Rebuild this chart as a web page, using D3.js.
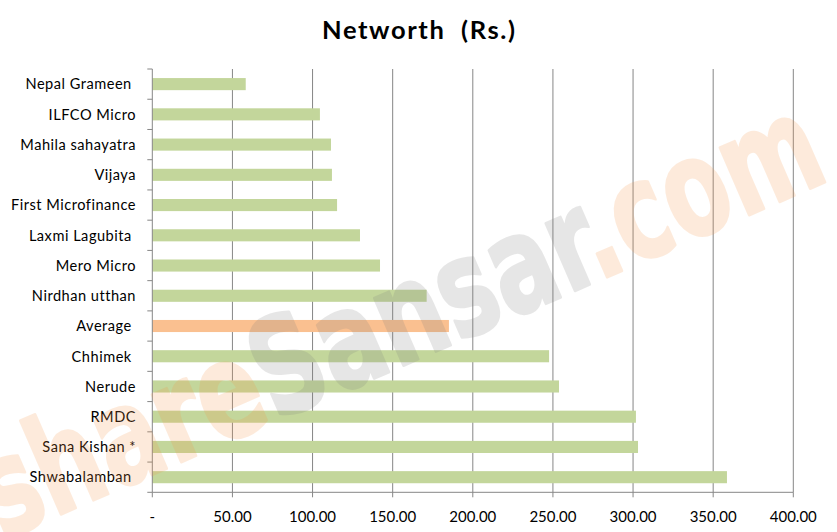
<!DOCTYPE html>
<html>
<head>
<meta charset="utf-8">
<script src="https://cdn.jsdelivr.net/npm/d3@7"></script>
<style>
  html, body { margin: 0; padding: 0; background: #fff; }
  svg text { white-space: pre; }
</style>
</head>
<body>
<svg id="chart" width="837" height="532"></svg>
<script>
const categories = ["Nepal Grameen ", "ILFCO Micro", "Mahila sahayatra", "Vijaya", "First Microfinance", "Laxmi Lagubita ", "Mero Micro", "Nirdhan utthan", "Average ", "Chhimek ", "Nerude", "RMDC", "Sana Kishan *", "Shwabalamban "];
const values = [58.3, 104.6, 111.5, 112.1, 115.3, 129.6, 142.1, 171.2, 185.1, 247.6, 253.8, 301.8, 303.1, 358.6];
const highlight = ["Average "];
const tickValues = [0, 50, 100, 150, 200, 250, 300, 350, 400];
const tickLabels = ["-", "50.00", "100.00", "150.00", "200.00", "250.00", "300.00", "350.00", "400.00"];
const title = "Networth  (Rs.)";
const watermark = [["share", "#f79646"], ["Sansar", "#7f7f7f"], [".com", "#f79646"]];

const svg = d3.select("#chart");
const W = 837, H = 532;
const m = { left: 152.3, right: 837 - 793.3, top: 69, bottom: 532 - 492.3 };
const font = "Lato, 'Open Sans', sans-serif";

const x = d3.scaleLinear().domain([0, 400]).range([m.left, W - m.right]);
const y = d3.scaleBand().domain(categories).range([m.top, H - m.bottom]).paddingInner(0.6).paddingOuter(0.3);
const yEdge = d3.scaleLinear().domain([0, categories.length]).range([m.top, H - m.bottom]);

// Title
svg.append("text").attr("x", 322).attr("y", 39)
  .attr("font-family", font).attr("font-weight", "bold").attr("font-size", 25.5)
  .attr("textLength", 193).attr("lengthAdjust", "spacing")
  .attr("fill", "#000").text(title);

// Gridlines
svg.append("g").selectAll("line").data(tickValues.slice(1)).join("line")
  .attr("x1", d => x(d)).attr("x2", d => x(d))
  .attr("y1", m.top).attr("y2", H - m.bottom)
  .attr("stroke", "#868686").attr("stroke-width", 1);

// Bars
svg.append("g").selectAll("rect").data(categories).join("rect")
  .attr("x", x(0)).attr("y", d => y(d))
  .attr("width", (d, i) => x(values[i]) - x(0))
  .attr("height", y.bandwidth())
  .attr("fill", d => highlight.includes(d) ? "#fac090" : "#c3d69b");

// Y axis
const yAxis = svg.append("g");
yAxis.append("line").attr("x1", x(0)).attr("x2", x(0)).attr("y1", m.top).attr("y2", H - m.bottom)
  .attr("stroke", "#868686");
yAxis.selectAll("line.tk").data(d3.range(categories.length + 1)).join("line").attr("class", "tk")
  .attr("x1", x(0) - 5).attr("x2", x(0)).attr("y1", d => yEdge(d)).attr("y2", d => yEdge(d))
  .attr("stroke", "#868686");
yAxis.selectAll("text").data(categories).join("text")
  .attr("x", 136).attr("y", d => y(d) + y.bandwidth() / 2 + 5.3)
  .attr("text-anchor", "end").attr("font-family", font).attr("font-size", 14.6)
  .attr("letter-spacing", 0.5).attr("fill", "#000")
  .text(d => d);

// X axis
const xAxis = svg.append("g");
xAxis.append("line").attr("x1", x(0)).attr("x2", x(400)).attr("y1", H - m.bottom).attr("y2", H - m.bottom)
  .attr("stroke", "#868686");
xAxis.selectAll("line.tk").data(tickValues).join("line").attr("class", "tk")
  .attr("x1", d => x(d)).attr("x2", d => x(d)).attr("y1", H - m.bottom).attr("y2", H - m.bottom + 5)
  .attr("stroke", "#868686");
xAxis.selectAll("text").data(tickValues).join("text")
  .attr("x", d => x(d)).attr("y", 522)
  .attr("text-anchor", "middle").attr("font-family", font).attr("font-size", 15).attr("fill", "#000")
  .text((d, i) => tickLabels[i]);

// Watermark
const wm = svg.append("text")
  .attr("transform", "translate(2,540) rotate(-23.5)")
  .attr("opacity", 0.19)
  .attr("font-family", "'DejaVu Sans', sans-serif").attr("font-weight", "bold").attr("font-size", 134)
  .attr("textLength", 905).attr("lengthAdjust", "spacingAndGlyphs");
watermark.forEach(([t, c]) => wm.append("tspan").attr("fill", c)
  .attr("stroke", c).attr("stroke-width", 3).attr("stroke-linejoin", "round").text(t));
</script>
</body>
</html>
